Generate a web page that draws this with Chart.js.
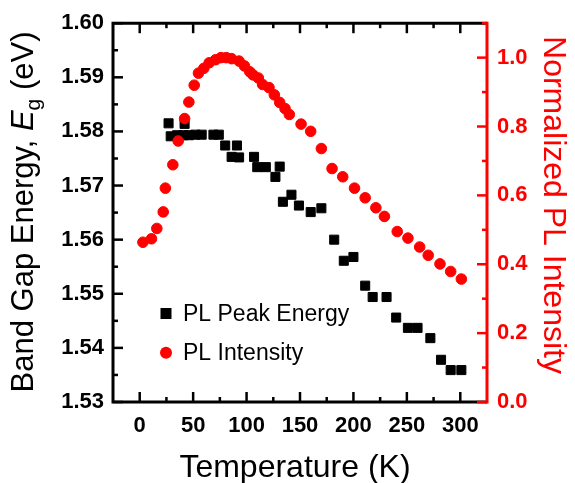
<!DOCTYPE html>
<html>
<head>
<meta charset="utf-8">
<title>Band gap energy and PL intensity vs temperature</title>
<script src="https://cdn.jsdelivr.net/npm/chart.js@4.4.1/dist/chart.umd.min.js"></script>
<style>
  html, body { margin: 0; padding: 0; background: #fff; }
</style>
</head>
<body>
<canvas id="chart" width="575" height="483"></canvas>
<script>
// values
const energyTemps = [27, 29, 35, 41, 42, 46, 52, 58, 69, 74, 80, 86, 91, 93, 107, 110, 118, 127, 131, 134,
  142, 149, 160, 170, 182, 191, 200, 211, 218, 231, 240, 251, 260, 272, 282, 291, 301];
const energyValues = [1.5815, 1.5791, 1.5793, 1.5793, 1.5814, 1.5793, 1.5794, 1.5794, 1.5794, 1.5794,
  1.5774, 1.5753, 1.5774, 1.5752, 1.5753, 1.5734, 1.5734, 1.5716, 1.5735, 1.5670,
  1.5683, 1.5663, 1.5651, 1.5658, 1.5600, 1.5561, 1.5568, 1.5515, 1.5494, 1.5494,
  1.5456, 1.5437, 1.5437, 1.5418, 1.5378, 1.5359, 1.5359];

const intensityTemps = [3, 11, 16, 22, 24, 31, 36, 42, 46, 51, 55, 60, 65, 71, 76, 81, 86, 93, 98, 103,
  106, 111, 115, 121, 126, 131, 136, 140, 151, 160, 170, 180, 190, 201, 211, 221, 229, 241, 251, 262,
  270, 281, 291, 301];
const intensityValues = [0.464, 0.474, 0.504, 0.552, 0.621, 0.689, 0.758, 0.823, 0.871, 0.920,
  0.955, 0.969, 0.985, 0.994, 1.0, 1.0, 0.997, 0.990, 0.976, 0.959,
  0.950, 0.941, 0.922, 0.913, 0.892, 0.870, 0.852, 0.835, 0.807, 0.786,
  0.736, 0.678, 0.654, 0.621, 0.593, 0.564, 0.539, 0.495, 0.476, 0.450,
  0.426, 0.401, 0.379, 0.357];

const tempTicks = [0, 50, 100, 150, 200, 250, 300];
const tempMinorTicks = [25, 75, 125, 175, 225, 275];
const energyTicks = [1.53, 1.54, 1.55, 1.56, 1.57, 1.58, 1.59, 1.60];
const energyMinorTicks = [1.535, 1.545, 1.555, 1.565, 1.575, 1.585, 1.595];
const intensityTicks = [0.0, 0.2, 0.4, 0.6, 0.8, 1.0];
const intensityMinorTicks = [0.1, 0.3, 0.5, 0.7, 0.9, 1.1];

const RED = '#ff0000';
const FONT = '"Liberation Sans", Arial, sans-serif';

const tickFont = { family: FONT, size: 22, weight: 'bold' };

function setTicks(list) {
  return scale => { scale.ticks = list.map(v => ({ value: v })); };
}

// axis frame, inward ticks, titles and legend
const decorations = {
  id: 'decorations',
  afterDraw(chart) {
    const { ctx, chartArea: a, scales } = chart;
    ctx.save();
    ctx.lineCap = 'butt';
    ctx.lineJoin = 'miter';

    ctx.strokeStyle = '#000';
    ctx.lineWidth = 3;
    ctx.beginPath();
    ctx.moveTo(a.right, a.top);
    ctx.lineTo(a.left, a.top);
    ctx.lineTo(a.left, a.bottom);
    ctx.lineTo(a.right, a.bottom);
    ctx.stroke();

    const line = (x1, y1, x2, y2) => {
      ctx.beginPath();
      ctx.moveTo(x1, y1);
      ctx.lineTo(x2, y2);
      ctx.stroke();
    };

    ctx.lineWidth = 2.5;
    tempTicks.concat(tempMinorTicks).forEach(v => {
      const len = tempTicks.includes(v) ? 10 : 5;
      const x = scales.x.getPixelForValue(v);
      line(x, a.bottom, x, a.bottom - len);
      line(x, a.top, x, a.top + len);
    });
    energyTicks.concat(energyMinorTicks).forEach(v => {
      const len = energyTicks.includes(v) ? 10 : 5;
      const y = scales.y.getPixelForValue(v);
      line(a.left, y, a.left + len, y);
    });

    ctx.strokeStyle = RED;
    ctx.lineWidth = 3;
    line(a.right, a.top - 1.5, a.right, a.bottom + 1.5);
    ctx.lineWidth = 2.5;
    intensityTicks.concat(intensityMinorTicks).forEach(v => {
      const len = intensityTicks.includes(v) ? 10 : 5;
      const y = scales.y1.getPixelForValue(v);
      line(a.right, y, a.right - len, y);
    });

    // x title
    ctx.fillStyle = '#000';
    ctx.textAlign = 'center';
    ctx.textBaseline = 'alphabetic';
    ctx.font = '32px ' + FONT;
    ctx.fillText('Temperature (K)', 295, 477);

    // left title with italic E and subscript g
    const parts = [
      ['Band Gap Energy, ', '31px ' + FONT, 0],
      ['E', 'italic 31px ' + FONT, 0],
      ['g', '21px ' + FONT, 7],
      [' (eV)', '31px ' + FONT, 0]
    ];
    let total = 0;
    parts.forEach(p => { ctx.font = p[1]; total += ctx.measureText(p[0]).width; });
    ctx.save();
    ctx.translate(33, 212);
    ctx.rotate(-Math.PI / 2);
    ctx.textAlign = 'left';
    let px = -total / 2;
    parts.forEach(p => {
      ctx.font = p[1];
      ctx.fillText(p[0], px, p[2]);
      px += ctx.measureText(p[0]).width;
    });
    ctx.restore();

    // right title
    ctx.save();
    ctx.translate(544, 205);
    ctx.rotate(Math.PI / 2);
    ctx.fillStyle = RED;
    ctx.textAlign = 'center';
    ctx.font = '32px ' + FONT;
    ctx.fillText('Normalized PL Intensity', 0, 0);
    ctx.restore();

    // legend
    ctx.font = '23px ' + FONT;
    ctx.textAlign = 'left';
    ctx.textBaseline = 'middle';
    ctx.fillStyle = '#000';
    ctx.fillRect(160.5, 308, 11, 11);
    ctx.fillText(chart.data.datasets[1].label, 183, 315);
    ctx.fillStyle = RED;
    ctx.beginPath();
    ctx.arc(166, 352.7, 6, 0, Math.PI * 2);
    ctx.fill();
    ctx.fillStyle = '#000';
    ctx.fillText(chart.data.datasets[0].label, 183, 354);

    ctx.restore();
  }
};

new Chart(document.getElementById('chart'), {
  type: 'scatter',
  data: {
    datasets: [
      {
        label: 'PL Intensity',
        data: intensityTemps.map((t, i) => ({ x: t, y: intensityValues[i] })),
        yAxisID: 'y1',
        pointStyle: 'circle',
        pointRadius: 5.3,
        borderWidth: 1,
        backgroundColor: RED,
        borderColor: RED,
        order: 0
      },
      {
        label: 'PL Peak Energy',
        data: energyTemps.map((t, i) => ({ x: t, y: energyValues[i] })),
        yAxisID: 'y',
        pointStyle: 'rect',
        pointRadius: 6.4,
        borderWidth: 1,
        backgroundColor: '#000',
        borderColor: '#000',
        order: 1
      }
    ]
  },
  options: {
    responsive: false,
    animation: false,
    layout: { padding: { top: 13, left: 0, right: 0, bottom: 0 } },
    plugins: {
      legend: { display: false },
      tooltip: { enabled: false }
    },
    scales: {
      x: {
        type: 'linear',
        position: 'bottom',
        min: -25,
        max: 325,
        grid: { display: false, drawTicks: false },
        border: { display: false },
        ticks: { font: tickFont, color: '#000', padding: 11, maxRotation: 0 },
        afterBuildTicks: setTicks(tempTicks),
        afterFit: s => { s.height = 81; }
      },
      y: {
        type: 'linear',
        position: 'left',
        min: 1.53,
        max: 1.60,
        grid: { display: false, drawTicks: false },
        border: { display: false },
        ticks: { font: tickFont, color: '#000', padding: 9, callback: v => v.toFixed(2) },
        afterBuildTicks: setTicks(energyTicks),
        afterFit: s => { s.width = 113; }
      },
      y1: {
        type: 'linear',
        position: 'right',
        min: 0,
        max: 1.1,
        grid: { display: false, drawTicks: false },
        border: { display: false },
        ticks: { font: tickFont, color: RED, padding: 10, callback: v => v.toFixed(1) },
        afterBuildTicks: setTicks(intensityTicks),
        afterFit: s => { s.width = 88; }
      }
    }
  },
  plugins: [decorations]
});
</script>
</body>
</html>
